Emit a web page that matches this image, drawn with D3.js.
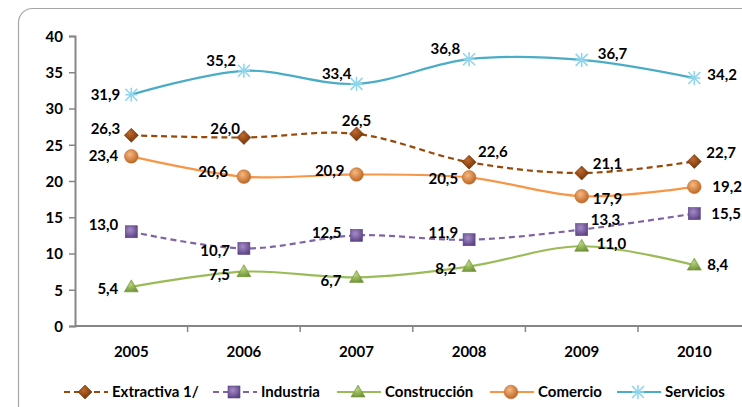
<!DOCTYPE html>
<html><head><meta charset="utf-8">
<script src="https://cdn.jsdelivr.net/npm/d3@7"></script>
<style>
body{margin:0;background:#fff;}
svg text{font-family:Lato,"Open Sans",sans-serif;font-weight:bold;fill:#000;}
</style></head>
<body>
<svg id="c" width="742" height="407"></svg>
<script>
const years = ["2005","2006","2007","2008","2009","2010"];
const seriesNames = ["Extractiva 1/","Industria","Construcción","Comercio","Servicios"];
const extractiva   = [26.3,26.0,26.5,22.6,21.1,22.7];
const industria    = [13.0,10.7,12.5,11.9,13.3,15.5];
const construccion = [5.4,7.5,6.7,8.2,11.0,8.4];
const comercio     = [23.4,20.6,20.9,20.5,17.9,19.2];
const servicios    = [31.9,35.2,33.4,36.8,36.7,34.2];
const yTicks = [0,5,10,15,20,25,30,35,40];

// label placement (relative to point) for each series
const placeExtr = [[-11,-7,"end"],[-4,-9,"end"],[0,-13,"middle"],[9,-10,"start"],[11,-9,"start"],[12,-9,"start"]];
const placeInd  = [[-13,-7,"end"],[-14,2,"end"],[-15,-3,"end"],[-11,-7,"end"],[9,-10,"start"],[17,0,"start"]];
const placeCon  = [[-13,2,"end"],[-14,3,"end"],[-15,3,"end"],[-13,2,"end"],[15,-3,"start"],[13,0,"start"]];
const placeCom  = [[-13,-1,"end"],[-16,-5,"end"],[-12,-4,"end"],[-11,1,"end"],[11,3,"start"],[18,0,"start"]];
const placeSer  = [[-11,0,"end"],[-8,-10,"end"],[-5,-10,"end"],[-9,-10,"end"],[16,-6,"start"],[13,-3,"start"]];

const series = [
  {name:seriesNames[0], values:extractiva, place:placeExtr, color:"#984807", dash:"6,4", marker:"diamond", fill:"#8a430f"},
  {name:seriesNames[1], values:industria, place:placeInd, color:"#8064a2", dash:"6,4", marker:"square", fill:"#6e5196"},
  {name:seriesNames[2], values:construccion, place:placeCon, color:"#9bbb59", dash:null, marker:"triangle", fill:"#7ea040"},
  {name:seriesNames[3], values:comercio, place:placeCom, color:"#f79646", dash:null, marker:"circle", fill:"#d9782f"},
  {name:seriesNames[4], values:servicios, place:placeSer, color:"#4bacc6", dash:null, marker:"star", fill:"#8fd6ec"}
];

const svg = d3.select("#c");
const defs = svg.append("defs");
function grad(id, light, dark){
  const g = defs.append("radialGradient").attr("id",id).attr("cx","40%").attr("cy","35%").attr("r","70%");
  g.append("stop").attr("offset","0%").attr("stop-color",light);
  g.append("stop").attr("offset","100%").attr("stop-color",dark);
}
grad("g0","#c0692a","#6b3008");
grad("g1","#a58bc7","#5b4283");
grad("g2","#b6d47c","#6f9235");
grad("g3","#f8b880","#b8621f");

// frame
svg.append("rect").attr("x",18.5).attr("y",8.5).attr("width",800).attr("height",500).attr("rx",14)
  .attr("fill","none").attr("stroke","#a6a6a6").attr("stroke-width",1.2);

const x = d3.scaleBand().domain(years).range([75, 75 + 6*112.6]);
const y = d3.scaleLinear().domain([0,40]).range([326,36]);

// y axis
const ya = svg.append("g").attr("transform","translate(75,0)")
  .call(d3.axisLeft(y).tickValues(yTicks).tickSize(6).tickPadding(6).tickFormat(d3.format("d")));
ya.select(".domain").attr("stroke","#868686").attr("stroke-width",2);
ya.selectAll(".tick line").attr("stroke","#868686").attr("stroke-width",1.5);
ya.selectAll(".tick text").style("font-size","15px").attr("dy","0.35em");

// x axis
const xa = svg.append("g").attr("transform","translate(0,326)")
  .call(d3.axisBottom(x).tickSize(0).tickPadding(20));
xa.select(".domain").attr("d","M75,0H742").attr("stroke","#868686").attr("stroke-width",2);
xa.selectAll(".tick text").style("font-size","15px");
svg.append("g").selectAll("line").data(years.slice(1)).join("line")
  .attr("x1",d=>x(d)).attr("x2",d=>x(d)).attr("y1",326).attr("y2",332)
  .attr("stroke","#868686").attr("stroke-width",1.5);

function drawMarker(g, type, fill){
  if(type==="diamond"){
    g.append("path").attr("d","M0,-7L7,0L0,7L-7,0Z").attr("fill","url(#g0)").attr("stroke","#6b3008").attr("stroke-width",0.6);
  } else if(type==="square"){
    g.append("rect").attr("x",-6).attr("y",-6).attr("width",12).attr("height",12).attr("fill","url(#g1)").attr("stroke","#5b4283").attr("stroke-width",0.6);
  } else if(type==="triangle"){
    g.append("path").attr("d","M0,-7L7,5L-7,5Z").attr("fill","url(#g2)").attr("stroke","#6f9235").attr("stroke-width",0.6);
  } else if(type==="circle"){
    g.append("circle").attr("r",6.8).attr("fill","url(#g3)").attr("stroke","#c4692a").attr("stroke-width",0.6);
  } else if(type==="star"){
    const r=6;
    g.append("path").attr("d",`M${-r},${-r}L${r},${r}M${-r},${r}L${r},${-r}M0,${-r-1}V${r+1}M${-r},0H${r}`)
      .attr("stroke",fill).attr("stroke-width",1.6).attr("fill","none");
  }
}

const line = d3.line().x((d,i)=>x(years[i])+x.bandwidth()/2).y(d=>y(d)).curve(d3.curveCardinal.tension(0));

series.forEach(s=>{
  svg.append("path").datum(s.values).attr("d",line).attr("fill","none")
    .attr("stroke",s.color).attr("stroke-width",2.2).attr("stroke-dasharray",s.dash);
});
series.forEach(s=>{
  s.values.forEach((v,i)=>{
    const cx = x(years[i])+x.bandwidth()/2, cy=y(v);
    const g = svg.append("g").attr("transform",`translate(${cx},${cy})`);
    drawMarker(g, s.marker, s.fill);
  });
});
series.forEach(s=>{
  s.values.forEach((v,i)=>{
    const cx = x(years[i])+x.bandwidth()/2, cy=y(v);
    const p = s.place[i];
    svg.append("text").attr("x",cx+p[0]).attr("y",cy+p[1]).attr("dy","0.35em")
      .attr("text-anchor",p[2]).style("font-size","15px").text(d3.format(".1f")(v).replace(".",","));
  });
});

// legend
const legX = [64, 213, 337, 490, 617];
series.forEach((s,k)=>{
  const g = svg.append("g").attr("transform",`translate(${legX[k]},392)`);
  g.append("line").attr("x1",0).attr("x2",44).attr("y1",0).attr("y2",0)
    .attr("stroke",s.color).attr("stroke-width",2.2).attr("stroke-dasharray",s.dash);
  const m = g.append("g").attr("transform","translate(21,0)");
  drawMarker(m, s.marker, s.fill);
  g.append("text").attr("x",48).attr("dy","0.35em").style("font-size","15px").text(s.name);
});
</script>
</body></html>
